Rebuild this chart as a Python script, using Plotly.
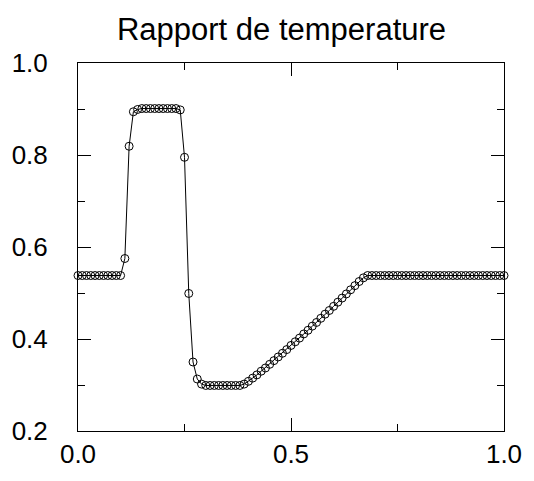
import plotly.graph_objects as go

x_pos = [0.00, 0.01, 0.02, 0.03, 0.04, 0.05, 0.06, 0.07, 0.08, 0.09,
         0.10, 0.11, 0.12, 0.13, 0.14, 0.15, 0.16, 0.17, 0.18, 0.19,
         0.20, 0.21, 0.22, 0.23, 0.24, 0.25, 0.26, 0.27, 0.28, 0.29,
         0.30, 0.31, 0.32, 0.33, 0.34, 0.35, 0.36, 0.37, 0.38, 0.39,
         0.40, 0.41, 0.42, 0.43, 0.44, 0.45, 0.46, 0.47, 0.48, 0.49,
         0.50, 0.51, 0.52, 0.53, 0.54, 0.55, 0.56, 0.57, 0.58, 0.59,
         0.60, 0.61, 0.62, 0.63, 0.64, 0.65, 0.66, 0.67, 0.68, 0.69,
         0.70, 0.71, 0.72, 0.73, 0.74, 0.75, 0.76, 0.77, 0.78, 0.79,
         0.80, 0.81, 0.82, 0.83, 0.84, 0.85, 0.86, 0.87, 0.88, 0.89,
         0.90, 0.91, 0.92, 0.93, 0.94, 0.95, 0.96, 0.97, 0.98, 0.99,
         1.00]

temperature_ratio = [
    0.538, 0.538, 0.538, 0.538, 0.538, 0.538, 0.538, 0.538, 0.538, 0.538,
    0.538, 0.575, 0.819, 0.894, 0.899, 0.901, 0.901, 0.901, 0.901, 0.901,
    0.901, 0.901, 0.901, 0.901, 0.898, 0.795, 0.499, 0.350, 0.313, 0.302,
    0.299, 0.299, 0.299, 0.299, 0.299, 0.299, 0.299, 0.299, 0.299, 0.302,
    0.308, 0.315, 0.322, 0.330, 0.337, 0.345, 0.353, 0.361, 0.369, 0.377,
    0.386, 0.394, 0.402, 0.411, 0.419, 0.428, 0.436, 0.445, 0.454, 0.462,
    0.471, 0.480, 0.489, 0.498, 0.507, 0.516, 0.525, 0.533, 0.538, 0.538,
    0.538, 0.538, 0.538, 0.538, 0.538, 0.538, 0.538, 0.538, 0.538, 0.538,
    0.538, 0.538, 0.538, 0.538, 0.538, 0.538, 0.538, 0.538, 0.538, 0.538,
    0.538, 0.538, 0.538, 0.538, 0.538, 0.538, 0.538, 0.538, 0.538, 0.538,
    0.538]

x_ticks = [0.0, 0.5, 1.0]
x_tick_labels = ["0.0", "0.5", "1.0"]
y_ticks = [0.2, 0.4, 0.6, 0.8, 1.0]
y_tick_labels = ["0.2", "0.4", "0.6", "0.8", "1.0"]
title_text = "Rapport de temperature"

FONT = "Liberation Sans, Arial, Helvetica, sans-serif"

fig = go.Figure()
fig.add_trace(go.Scatter(
    x=x_pos, y=temperature_ratio,
    mode="lines+markers",
    line=dict(color="black", width=1),
    marker=dict(symbol="circle-open", size=8, color="black", line=dict(width=1, color="black")),
    cliponaxis=False,
    showlegend=False,
    hoverinfo="skip",
))

axis_common = dict(
    showline=True, linecolor="black", linewidth=1, mirror="allticks",
    ticks="inside", ticklen=13, tickwidth=1, tickcolor="black",
    showgrid=False, zeroline=False,
    tickfont=dict(family=FONT, size=26, color="black"),
)

fig.update_xaxes(
    range=[0, 1], tickmode="array", tickvals=x_ticks, ticktext=x_tick_labels,
    minor=dict(tickmode="array", tickvals=[0.25, 0.75], ticks="inside", ticklen=7, tickcolor="black", showgrid=False),
    **axis_common,
)
fig.update_yaxes(
    range=[0.2, 1.0], tickmode="array", tickvals=y_ticks, ticktext=y_tick_labels,
    minor=dict(tickmode="array", tickvals=[0.3, 0.5, 0.7, 0.9], ticks="inside", ticklen=7, tickcolor="black", showgrid=False),
    ticklabelstandoff=24,
    **axis_common,
)

fig.update_layout(
    width=534, height=481,
    margin=dict(l=74, r=28, t=63, b=41),
    paper_bgcolor="white", plot_bgcolor="white",
    title=dict(text=title_text, x=281.5 / 534, xref="container", xanchor="center",
               y=1 - 29 / 481, yref="container", yanchor="middle",
               font=dict(family=FONT, size=31, color="black")),
)

fig.write_html("out.html",
               config={"displayModeBar": False},
               post_script="document.body.style.margin='0';document.body.style.overflow='hidden';")
